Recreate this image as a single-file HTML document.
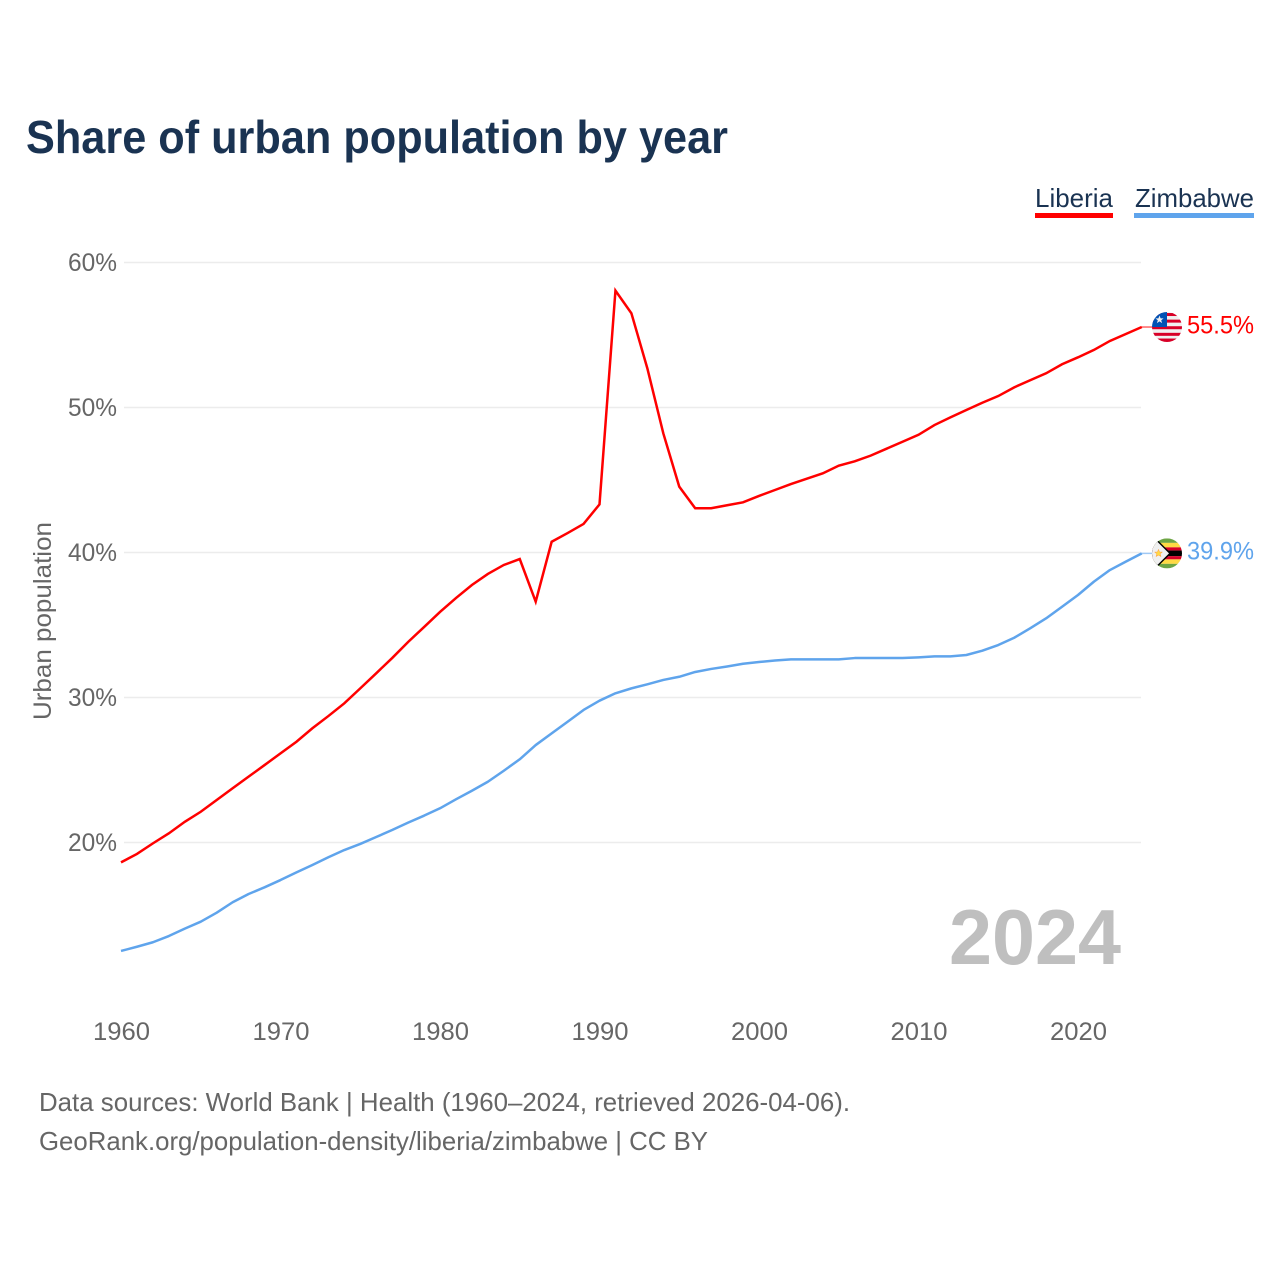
<!DOCTYPE html>
<html lang="en">
<head>
<meta charset="utf-8">
<title>Share of urban population by year</title>
<style>
html,body{margin:0;padding:0;background:#fff;}
svg{display:block;font-family:"Liberation Sans",sans-serif;}
</style>
</head>
<body>
<svg id="chart" xmlns="http://www.w3.org/2000/svg" width="1280" height="1280" viewBox="0 0 1280 1280">
  <rect width="1280" height="1280" fill="#fff"/>
  <text x="26" y="153" font-size="46" font-weight="700" fill="#1a3352" textLength="702" lengthAdjust="spacingAndGlyphs">Share of urban population by year</text>

  <g>
    <text x="1035" y="207" font-size="26" fill="#1a3352" textLength="78" lengthAdjust="spacingAndGlyphs">Liberia</text>
    <rect x="1035" y="213" width="78" height="5" fill="#ff0000"/>
  </g>
  <g>
    <text x="1135" y="207" font-size="26" fill="#1a3352" textLength="119" lengthAdjust="spacingAndGlyphs">Zimbabwe</text>
    <rect x="1134" y="213" width="120" height="5" fill="#5fa4ec"/>
  </g>

  <g id="grid"></g>
  <g id="yticks"></g>
  <g id="xticks"></g>
  <text transform="translate(51,621) rotate(-90)" text-anchor="middle" font-size="25" fill="#666" textLength="198" lengthAdjust="spacingAndGlyphs">Urban population</text>

  <text x="949" y="964" font-size="78" font-weight="700" fill="#bfbfbf" textLength="172" lengthAdjust="spacingAndGlyphs">2024</text>

  <g id="series"></g>

  <defs>
    <clipPath id="flag-clip"><circle cx="0" cy="0" r="15"/></clipPath>
  </defs>
  <g id="flag-liberia">
    <g clip-path="url(#flag-clip)">
      <rect x="-15" y="-15" width="30" height="30" fill="#f0f0f0"/>
      <rect x="-15" y="-14" width="30" height="3" fill="#d80027"/>
      <rect x="-15" y="-7.4" width="30" height="3" fill="#d80027"/>
      <rect x="-15" y="-0.8" width="30" height="3" fill="#d80027"/>
      <rect x="-15" y="5.8" width="30" height="3" fill="#d80027"/>
      <rect x="-15" y="11.5" width="30" height="3.5" fill="#d80027"/>
      <rect x="-15" y="-15" width="15" height="15" fill="#0052b4"/>
      <polygon points="-7.5,-11.5 -6.4,-8.6 -3.4,-8.6 -5.8,-6.8 -4.9,-3.9 -7.5,-5.6 -10.1,-3.9 -9.2,-6.8 -11.6,-8.6 -8.6,-8.6" fill="#f0f0f0"/>
    </g>
  </g>
  <g id="flag-zimbabwe">
    <g clip-path="url(#flag-clip)">
      <rect x="-15" y="-15" width="30" height="30" fill="#f0f0f0"/>
      <rect x="-15" y="-15" width="30" height="4.5" fill="#6da544"/>
      <rect x="-15" y="-10.5" width="30" height="4.5" fill="#ffda44"/>
      <rect x="-15" y="-6" width="30" height="3.2" fill="#d80027"/>
      <rect x="-15" y="-2.8" width="30" height="5.6" fill="#000"/>
      <rect x="-15" y="2.8" width="30" height="3.2" fill="#d80027"/>
      <rect x="-15" y="6" width="30" height="4.5" fill="#ffda44"/>
      <rect x="-15" y="10.5" width="30" height="4.5" fill="#6da544"/>
      <polygon points="-15,-15 -11,-15 4,0 -11,15 -15,15" fill="#000"/>
      <polygon points="-15,-13 -11,-13 2,0 -11,13 -15,13" fill="#f0f0f0"/>
      <polygon points="-8.5,-4 -7.4,-1.3 -4.6,-1.3 -6.8,0.5 -6,3.2 -8.5,1.7 -11,3.2 -10.2,0.5 -12.4,-1.3 -9.6,-1.3" fill="#ffda44" stroke="#ff9a3c" stroke-width="0.5"/>
    </g>
  </g>

  <text id="label-liberia" x="1187" font-size="25" fill="#ff0000" textLength="67" lengthAdjust="spacingAndGlyphs"></text>
  <text id="label-zimbabwe" x="1187" font-size="25" fill="#5fa4ec" textLength="67" lengthAdjust="spacingAndGlyphs"></text>

  <text x="39" y="1111" font-size="26" fill="#666" textLength="811" lengthAdjust="spacingAndGlyphs">Data sources: World Bank | Health (1960–2024, retrieved 2026-04-06).</text>
  <text x="39" y="1150" font-size="26" fill="#666" textLength="669" lengthAdjust="spacingAndGlyphs">GeoRank.org/population-density/liberia/zimbabwe | CC BY</text>
</svg>
<script>
var startYear = 1960;
var yTickValues = [20, 30, 40, 50, 60];
var yTickLabels = ['20%', '30%', '40%', '50%', '60%'];
var xTickValues = [1960, 1970, 1980, 1990, 2000, 2010, 2020];
var xTickLabels = ['1960', '1970', '1980', '1990', '2000', '2010', '2020'];
var liberiaValues = [18.63,19.21,19.94,20.63,21.43,22.12,22.93,23.74,24.54,25.34,26.15,26.95,27.88,28.72,29.60,30.63,31.67,32.72,33.83,34.86,35.90,36.86,37.76,38.52,39.14,39.55,36.61,40.74,41.34,41.97,43.32,58.06,56.50,52.70,48.22,44.54,43.05,43.05,43.26,43.46,43.90,44.31,44.72,45.09,45.46,45.99,46.29,46.68,47.16,47.64,48.12,48.79,49.32,49.83,50.33,50.79,51.39,51.88,52.36,52.98,53.46,53.97,54.59,55.07,55.55];
var zimbabweValues = [12.52,12.81,13.12,13.55,14.06,14.54,15.16,15.88,16.45,16.91,17.41,17.94,18.45,18.98,19.48,19.90,20.38,20.86,21.37,21.85,22.36,22.98,23.57,24.19,24.95,25.74,26.72,27.53,28.33,29.14,29.78,30.29,30.63,30.91,31.21,31.43,31.76,31.97,32.14,32.33,32.45,32.55,32.63,32.63,32.63,32.63,32.72,32.72,32.72,32.72,32.77,32.84,32.84,32.93,33.23,33.62,34.12,34.77,35.46,36.26,37.07,37.99,38.79,39.37,39.94];
var liberiaLabel = '55.5%';
var zimbabweLabel = '39.9%';

var SVG_NS = 'http://www.w3.org/2000/svg';
function xScale(year) { return 121 + (year - 1960) * 15.95; }
function yScale(v) { return 262.5 + (60 - v) * 14.5; }
function make(tag, parent) {
  var el = document.createElementNS(SVG_NS, tag);
  parent.appendChild(el);
  return el;
}

var gridGroup = document.getElementById('grid');
var yTickGroup = document.getElementById('yticks');
yTickValues.forEach(function (v, i) {
  var line = make('line', gridGroup);
  
  
  line.setAttribute('x1', 124);
  line.setAttribute('x2', 1141);
  line.setAttribute('y1', yScale(v));
  line.setAttribute('y2', yScale(v));
  line.setAttribute('stroke', '#ececec');
  line.setAttribute('stroke-width', 1.5);

  var t = make('text', yTickGroup);
  
  
  t.setAttribute('x', 68);
  t.setAttribute('y', yScale(v) + 8.5);
  t.setAttribute('font-size', 25);
  t.setAttribute('fill', '#666');
  t.setAttribute('textLength', 49);
  t.setAttribute('lengthAdjust', 'spacingAndGlyphs');
  t.textContent = yTickLabels[i];
});

var xTickGroup = document.getElementById('xticks');
xTickValues.forEach(function (year, i) {
  var t = make('text', xTickGroup);
  
  
  t.setAttribute('x', xScale(year) - 28);
  t.setAttribute('y', 1040);
  t.setAttribute('font-size', 25);
  t.setAttribute('fill', '#666');
  t.setAttribute('textLength', 57);
  t.setAttribute('lengthAdjust', 'spacingAndGlyphs');
  t.textContent = xTickLabels[i];
});

function linePoints(values) {
  return values.map(function (v, i) {
    return xScale(startYear + i).toFixed(2) + ',' + yScale(v).toFixed(2);
  }).join(' ');
}

var seriesGroup = document.getElementById('series');

var liberiaLine = make('polyline', seriesGroup);


liberiaLine.setAttribute('points', linePoints(liberiaValues));
liberiaLine.setAttribute('fill', 'none');
liberiaLine.setAttribute('stroke', '#ff0000');
liberiaLine.setAttribute('stroke-width', 2.5);
liberiaLine.setAttribute('stroke-linejoin', 'miter');

var zimbabweLine = make('polyline', seriesGroup);


zimbabweLine.setAttribute('points', linePoints(zimbabweValues));
zimbabweLine.setAttribute('fill', 'none');
zimbabweLine.setAttribute('stroke', '#5fa4ec');
zimbabweLine.setAttribute('stroke-width', 2.5);
zimbabweLine.setAttribute('stroke-linejoin', 'round');

var lastX = xScale(startYear + liberiaValues.length - 1);
var liberiaEndY = yScale(liberiaValues[liberiaValues.length - 1]);
var zimbabweEndY = yScale(zimbabweValues[zimbabweValues.length - 1]);

var liberiaConnector = make('line', seriesGroup);


liberiaConnector.setAttribute('x1', lastX);
liberiaConnector.setAttribute('x2', 1152);
liberiaConnector.setAttribute('y1', liberiaEndY);
liberiaConnector.setAttribute('y2', liberiaEndY);
liberiaConnector.setAttribute('stroke', '#ff0000');
liberiaConnector.setAttribute('stroke-opacity', 0.6);
liberiaConnector.setAttribute('stroke-width', 1.5);

var zimbabweConnector = make('line', seriesGroup);


zimbabweConnector.setAttribute('x1', lastX);
zimbabweConnector.setAttribute('x2', 1152);
zimbabweConnector.setAttribute('y1', zimbabweEndY);
zimbabweConnector.setAttribute('y2', zimbabweEndY);
zimbabweConnector.setAttribute('stroke', '#5fa4ec');
zimbabweConnector.setAttribute('stroke-opacity', 0.6);
zimbabweConnector.setAttribute('stroke-width', 1.5);

document.getElementById('flag-liberia').setAttribute('transform', 'translate(1167,' + liberiaEndY + ')');
document.getElementById('flag-zimbabwe').setAttribute('transform', 'translate(1167,' + zimbabweEndY + ')');

var liberiaText = document.getElementById('label-liberia');
liberiaText.setAttribute('y', liberiaEndY + 6.5);
liberiaText.textContent = liberiaLabel;
var zimbabweText = document.getElementById('label-zimbabwe');
zimbabweText.setAttribute('y', zimbabweEndY + 6);
zimbabweText.textContent = zimbabweLabel;
</script>
</body>
</html>
